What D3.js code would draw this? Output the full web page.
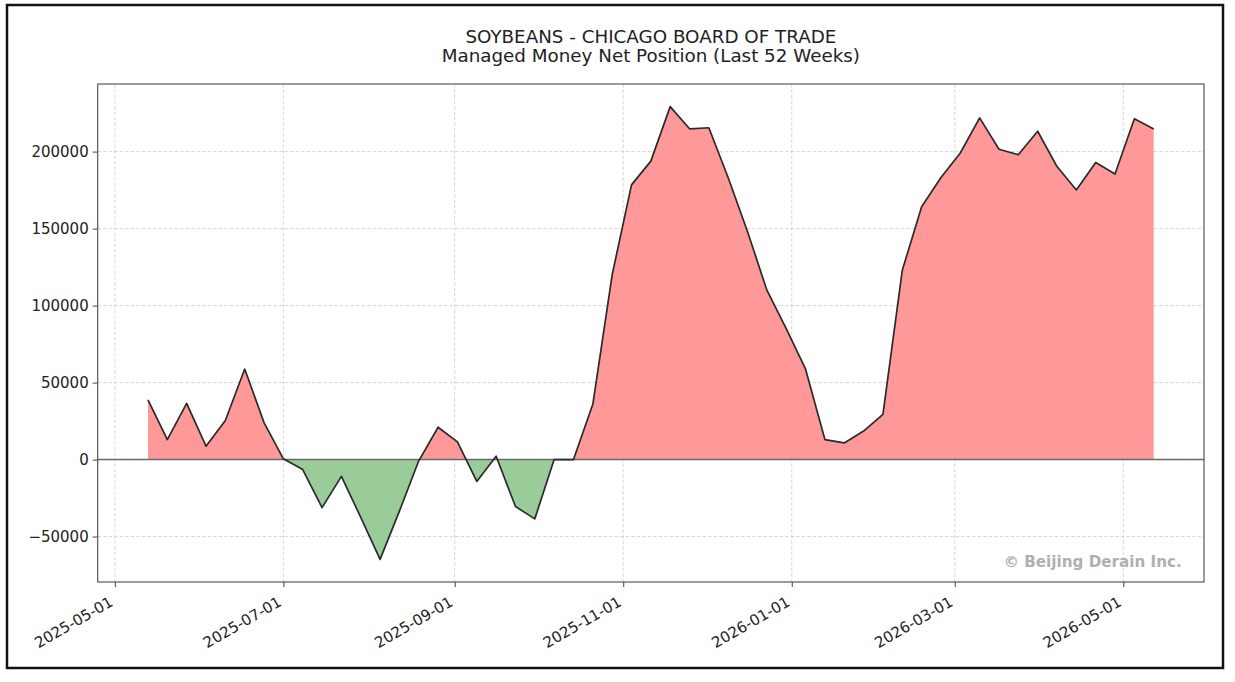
<!DOCTYPE html>
<html>
<head>
<meta charset="utf-8">
<script src="https://cdn.jsdelivr.net/npm/d3@7"></script>
<style>
  body { margin: 0; background: #fff; }
  svg text { font-family: "DejaVu Sans", sans-serif; fill: #222; }
</style>
</head>
<body>
<svg id="chart" width="1235" height="682"></svg>
<script>
// weekly report dates (Tuesdays)
var weekDates = [
  '2025-05-13', '2025-05-20', '2025-05-27', '2025-06-03', '2025-06-10', '2025-06-17',
  '2025-06-24', '2025-07-01', '2025-07-08', '2025-07-15', '2025-07-22', '2025-07-29',
  '2025-08-05', '2025-08-12', '2025-08-19', '2025-08-26', '2025-09-02', '2025-09-09',
  '2025-09-16', '2025-09-23', '2025-09-30', '2025-10-07', '2025-10-14', '2025-10-21',
  '2025-10-28', '2025-11-04', '2025-11-11', '2025-11-18', '2025-11-25', '2025-12-02',
  '2025-12-09', '2025-12-16', '2025-12-23', '2025-12-30', '2026-01-06', '2026-01-13',
  '2026-01-20', '2026-01-27', '2026-02-03', '2026-02-10', '2026-02-17', '2026-02-24',
  '2026-03-03', '2026-03-10', '2026-03-17', '2026-03-24', '2026-03-31', '2026-04-07',
  '2026-04-14', '2026-04-21', '2026-04-28', '2026-05-05', '2026-05-12'
];

// managed money net position (contracts)
var netPosition = [
  38700, 13000, 36500, 8700, 25400, 58800,
  24000, 500, -6500, -31200, -10900, -37500,
  -64800, -33500, -800, 21000, 11500, -14200,
  2200, -30500, -38500, 0, 0, 35900,
  120000, 178400, 193800, 229200, 214800, 215500,
  183000, 148000, 110000, 85000, 58700, 13000,
  10800, 18500, 29400, 122900, 164200, 183200,
  199100, 221900, 201500, 198000, 213200, 190300,
  175100, 192900, 185400, 221300, 214700
];

var yTickValues = [-50000, 0, 50000, 100000, 150000, 200000];
var xTickDates = ['2025-05-01', '2025-07-01', '2025-09-01', '2025-11-01', '2026-01-01', '2026-03-01', '2026-05-01'];

var titleLines = ['SOYBEANS - CHICAGO BOARD OF TRADE', 'Managed Money Net Position (Last 52 Weeks)'];
var watermark = '\u00a9 Beijing Derain Inc.';

var parseDate = d3.timeParse('%Y-%m-%d');
var formatDate = d3.timeFormat('%Y-%m-%d');

var points = weekDates.map(function(d, i) {
  return { date: parseDate(d), value: netPosition[i] };
});

var plot = { left: 97.7, right: 1204, top: 84, bottom: 582 };

var svg = d3.select('#chart');

// figure frame
svg.append('rect')
  .attr('x', 7).attr('y', 5)
  .attr('width', 1216).attr('height', 663)
  .attr('fill', '#fff')
  .attr('stroke', '#111')
  .attr('stroke-width', 2.5);

// scales with matplotlib-like 5% margins
var xExtent = d3.extent(points, function(p) { return p.date; });
var xPad = (xExtent[1] - xExtent[0]) * 0.05;
var x = d3.scaleTime()
  .domain([new Date(+xExtent[0] - xPad), new Date(+xExtent[1] + xPad)])
  .range([plot.left, plot.right]);

var yExtent = d3.extent(netPosition.concat([0]));
var yPad = (yExtent[1] - yExtent[0]) * 0.05;
var y = d3.scaleLinear()
  .domain([yExtent[0] - yPad, yExtent[1] + yPad])
  .range([plot.bottom, plot.top]);

var xTicks = xTickDates.map(parseDate);

// grid
var grid = svg.append('g').attr('class', 'grid');
grid.selectAll('line.gx')
  .data(xTicks)
  .enter().append('line')
  .attr('class', 'gx')
  .attr('x1', function(d) { return x(d); })
  .attr('x2', function(d) { return x(d); })
  .attr('y1', plot.top).attr('y2', plot.bottom);
grid.selectAll('line.gy')
  .data(yTickValues)
  .enter().append('line')
  .attr('class', 'gy')
  .attr('x1', plot.left).attr('x2', plot.right)
  .attr('y1', function(d) { return y(d); })
  .attr('y2', function(d) { return y(d); });
grid.selectAll('line')
  .attr('stroke', '#c4c4c4')
  .attr('stroke-opacity', 0.75)
  .attr('stroke-width', 0.9)
  .attr('stroke-dasharray', '3.5,2');

// clip regions above / below zero
var defs = svg.append('defs');
defs.append('clipPath').attr('id', 'clip-pos')
  .append('rect')
  .attr('x', plot.left).attr('y', plot.top)
  .attr('width', plot.right - plot.left).attr('height', y(0) - plot.top);
defs.append('clipPath').attr('id', 'clip-neg')
  .append('rect')
  .attr('x', plot.left).attr('y', y(0))
  .attr('width', plot.right - plot.left).attr('height', plot.bottom - y(0));

var area = d3.area()
  .x(function(p) { return x(p.date); })
  .y0(y(0))
  .y1(function(p) { return y(p.value); });

svg.append('path')
  .datum(points)
  .attr('d', area)
  .attr('fill', '#ff9999')
  .attr('clip-path', 'url(#clip-pos)');

svg.append('path')
  .datum(points)
  .attr('d', area)
  .attr('fill', '#99cc99')
  .attr('clip-path', 'url(#clip-neg)');

// zero line
svg.append('line')
  .attr('x1', plot.left).attr('x2', plot.right)
  .attr('y1', y(0)).attr('y2', y(0))
  .attr('stroke', '#6a6a6a')
  .attr('stroke-width', 1.5);

// net position line
var line = d3.line()
  .x(function(p) { return x(p.date); })
  .y(function(p) { return y(p.value); });

svg.append('path')
  .datum(points)
  .attr('d', line)
  .attr('fill', 'none')
  .attr('stroke', '#2a2a2a')
  .attr('stroke-width', 1.7)
  .attr('stroke-linejoin', 'round');

// axes
var yAxis = svg.append('g')
  .attr('transform', 'translate(' + plot.left + ',0)')
  .call(d3.axisLeft(y)
    .tickValues(yTickValues)
    .tickSize(5)
    .tickPadding(4)
    .tickFormat(function(d) { return d < 0 ? '\u2212' + Math.abs(d) : String(d); }));

var xAxis = svg.append('g')
  .attr('transform', 'translate(0,' + plot.bottom + ')')
  .call(d3.axisBottom(x)
    .tickValues(xTicks)
    .tickSize(5)
    .tickFormat(formatDate));

[xAxis, yAxis].forEach(function(ax) {
  ax.select('.domain').remove();
  ax.selectAll('.tick line').attr('stroke', '#444').attr('stroke-width', 1);
  ax.selectAll('.tick text')
    .attr('fill', '#222')
    .style('font-size', '15px')
    .style('font-family', '"DejaVu Sans", sans-serif');
});

// rotated date labels, top-right corner hung just under the tick
xAxis.selectAll('.tick text')
  .attr('text-anchor', 'end')
  .attr('dy', null)
  .attr('y', 0)
  .attr('transform', 'translate(-3.5,19) rotate(-30)')
  .attr('dominant-baseline', 'middle');

// spines
svg.append('rect')
  .attr('x', plot.left).attr('y', plot.top)
  .attr('width', plot.right - plot.left).attr('height', plot.bottom - plot.top)
  .attr('fill', 'none')
  .attr('stroke', '#4a4a4a')
  .attr('stroke-width', 1.1);

// title
svg.selectAll('text.title')
  .data(titleLines)
  .enter().append('text')
  .attr('class', 'title')
  .attr('x', (plot.left + plot.right) / 2)
  .attr('y', function(d, i) { return 43 + i * 19; })
  .attr('text-anchor', 'middle')
  .style('font-size', '18.3px')
  .text(function(d) { return d; });

// watermark
svg.append('text')
  .attr('x', plot.left + 0.98 * (plot.right - plot.left))
  .attr('y', 567)
  .attr('text-anchor', 'end')
  .style('font-size', '15.2px')
  .style('font-weight', 'bold')
  .style('fill', '#b0b0b0')
  .text(watermark);
</script>
</body>
</html>
